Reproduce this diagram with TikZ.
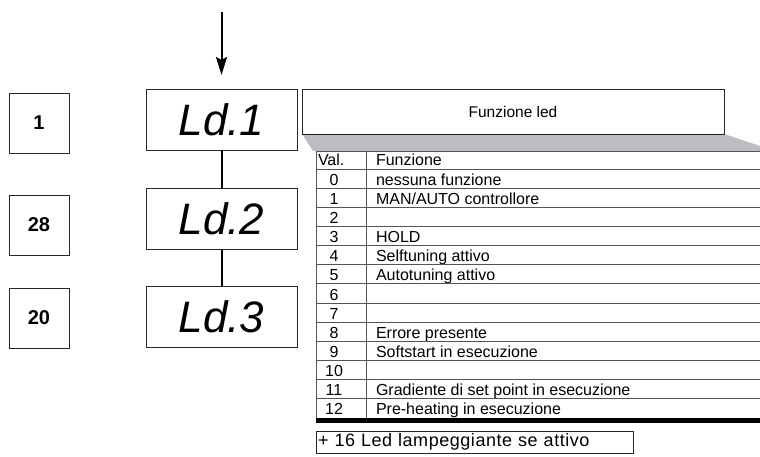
\documentclass[tikz,border=0pt]{standalone}
\usepackage{fontspec}
\setmainfont{Liberation Sans}
\usetikzlibrary{positioning, arrows.meta}

\definecolor{shadegray}{RGB}{187,189,193}
\definecolor{rulegray}{RGB}{85,85,85}

\begin{document}
\begin{tikzpicture}[
    x=1pt, y=-1pt,
    every node/.style={inner sep=0pt, outer sep=0pt},
    codebox/.style={draw=black!85, line width=0.9pt, minimum width=60pt, minimum height=60pt,
        font=\fontsize{20}{20}\selectfont\bfseries},
    display/.style={draw=black!85, line width=0.9pt, minimum width=151pt, minimum height=61pt,
        font=\fontsize{44}{44}\selectfont\itshape},
    link/.style={line width=2pt},
    cell/.style={anchor=base west, font=\fontsize{16}{16}\selectfont},
    valcell/.style={anchor=base, font=\fontsize{16}{16}\selectfont},
    rowline/.style={draw=rulegray, line width=0.9pt},
    >={Stealth[length=18pt, width=11pt, inset=3pt]}
]
\useasboundingbox (0,0) rectangle (760,457);

% Displays of the parameter chain
\node[display] (ld1) at (221.5,119.5) {Ld.1};
\node[display, below=38pt of ld1] (ld2) {Ld.2};
\node[display, below=37pt of ld2] (ld3) {Ld.3};

% Default values
\node[codebox] (c1) at (39,123) {1};
\node[codebox] (c28) at (39,225) {28};
\node[codebox] (c20) at (39,318) {20};

% Entry arrow and chain
\coordinate (entry) at (221.5,12);
\draw[->, link, shorten >=14pt] (entry) -- (ld1.north);
\draw[link] (ld1) -- (ld2);
\draw[link] (ld2) -- (ld3);

% Header with its shadow
\fill[shadegray] (302,134) -- (724,134) -- (760,146) -- (760,151) -- (313,151) -- cycle;
\node[draw=black!85, line width=0.9pt, minimum width=422pt, minimum height=45pt,
    font=\fontsize{15.5}{15.5}\selectfont] (ledbox) at (513,111.5) {Funzione led};

% Table
\draw[rowline] (316,151) -- (760,151);
\draw[rowline] (316,151) -- (316,420);
\draw[rowline] (366,151) -- (366,418);
\node[cell] (valhead) at (318,166) {Val.};
\node[cell] (funhead) at (376,166) {Funzione};
\draw[rowline] (316,169) -- (760,169);
\foreach \val/\txt [count=\i from 0] in {0/nessuna funzione, 1/{MAN/AUTO controllore}, 2/,
    3/HOLD, 4/Selftuning attivo, 5/Autotuning attivo, 6/, 7/, 8/Errore presente,
    9/Softstart in esecuzione, 10/, 11/Gradiente di set point in esecuzione,
    12/Pre-heating in esecuzione} {
    \node[valcell] (val\i) at (334,{169+19.15*(\i+1)-3}) {\val};
    \node[cell] (fun\i) at (376,{169+19.15*(\i+1)-3}) {\txt};
    \ifnum\i<12
        \draw[rowline] (316,{169+19.15*(\i+1)}) -- (760,{169+19.15*(\i+1)});
    \fi
}
\draw[line width=5pt] (315.5,420.5) -- (760,420.5);

% Blinking note
\node[draw=black!85, line width=0.9pt, anchor=north west, text width=313pt, inner xsep=2pt,
    minimum height=22pt, font=\fontsize{18}{18}\selectfont\addfontfeature{LetterSpace=3}] (blink)
    at (316,431) {+ 16 Led lampeggiante se attivo};

\end{tikzpicture}
\end{document}
